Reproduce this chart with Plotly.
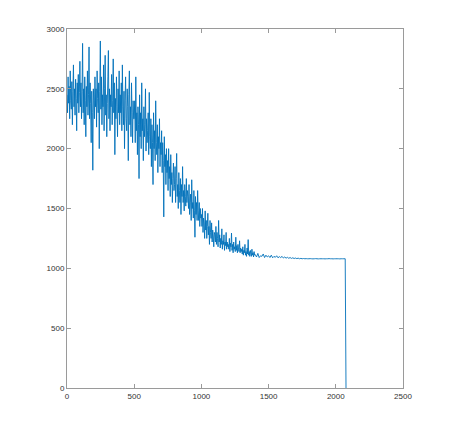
import plotly.graph_objects as go

# Noisy part sampled every 4 units from 0 to 1396
y_dense = [
    # 0-96
    2450, 2300, 2600, 2380, 2520, 2250, 2650, 2400, 2330, 2560, 2200, 2480, 2700, 2350, 2500, 2280, 2580, 2420, 2150, 2550, 2380, 2620, 2300, 2470, 2730,
    # 100-196
    2350, 2550, 2250, 2480, 2880, 2300, 2500, 2200, 2600, 2400, 2100, 2520, 2350, 2650, 2280, 2450, 2850, 2250, 2550, 2380, 2050, 2480, 2300, 1820, 2500,
    # 200-296
    2400, 2250, 2600, 2350, 2500, 2180, 2650, 2420, 2300, 2550, 2000, 2480, 2900, 2330, 2600, 2200, 2450, 2350, 2700, 2150, 2500, 2780, 2280, 2450, 2100,
    # 300-396
    2380, 2600, 2820, 2250, 2500, 2150, 2450, 2350, 2620, 2200, 2400, 2750, 2300, 2550, 1950, 2420, 2250, 2600, 2350, 2100, 2500, 2300, 2650, 2200, 2450,
    # 400-496
    2300, 2550, 2150, 2700, 2350, 2200, 2480, 2000, 2400, 2600, 2250, 2150, 2500, 2350, 1900, 2450, 2650, 2200, 2350, 2100, 2550, 2300, 2050, 2400, 2250,
    # 500-596
    2250, 2400, 2050, 2600, 2150, 2300, 1950, 2350, 2200, 1750, 2450, 2100, 2300, 2000, 2550, 2150, 2250, 1900, 2350, 2100, 2200, 2500, 1980, 2250, 2050,
    # 600-696
    2150, 2300, 1950, 2470, 2100, 2000, 2250, 1850, 2200, 2050, 1700, 2300, 2000, 2150, 1900, 2400, 2050, 1950, 2200, 1800, 2100, 2000, 2250, 1850, 2050,
    # 700-796
    1950, 2150, 1800, 2050, 1900, 1430, 2100, 1850, 1950, 1700, 2000, 1800, 1900, 1650, 2000, 1750, 1850, 1600, 1950, 1700, 1800, 1550, 1750, 1880, 1650,
    # 800-896
    1700, 1850, 1550, 1750, 1960, 1600, 1700, 1500, 1800, 1650, 1550, 1750, 1450, 1700, 1600, 1850, 1550, 1650, 1480, 1700, 1600, 1520, 1750, 1550, 1650,
    # 900-996
    1600, 1500, 1700, 1450, 1550, 1620, 1400, 1740, 1500, 1550, 1420, 1650, 1480, 1260, 1600, 1450, 1550, 1400, 1650, 1480, 1400, 1550, 1350, 1500, 1420,
    # 1000-1096
    1450, 1350, 1500, 1300, 1420, 1380, 1250, 1480, 1320, 1400, 1250, 1350, 1460, 1280, 1350, 1200, 1400, 1300, 1250, 1380, 1220, 1320, 1270, 1180, 1300,
    # 1100-1196
    1280, 1220, 1350, 1200, 1300, 1250, 1180, 1400, 1220, 1280, 1170, 1250, 1200, 1330, 1160, 1230, 1200, 1280, 1150, 1220, 1190, 1300, 1160, 1220, 1180,
    # 1200-1296
    1200, 1160, 1250, 1140, 1210, 1180, 1295, 1150, 1200, 1130, 1220, 1160, 1180, 1140, 1260, 1150, 1190, 1130, 1200, 1160, 1140, 1230, 1130, 1170, 1140,
    # 1300-1396
    1160, 1120, 1180, 1110, 1150, 1130, 1200, 1110, 1140, 1100, 1170, 1120, 1240, 1110, 1140, 1100, 1150, 1120, 1100, 1160, 1110, 1130, 1095, 1140, 1110,
]

# Settled part sampled every 10 units from 1400 to 2070
y_tail = [
    1115, 1095, 1125, 1090, 1105, 1100, 1120, 1090, 1110, 1095,
    1105, 1090, 1110, 1088, 1100, 1092, 1105, 1088, 1098, 1090,
    1100, 1086, 1095, 1085, 1092, 1084, 1090, 1083, 1088, 1082,
    1086, 1081, 1085, 1080, 1083, 1080, 1082, 1080, 1081, 1080,
    1080, 1081, 1080, 1079, 1080, 1081, 1080, 1079, 1080, 1080,
    1080, 1080, 1079, 1080, 1080, 1081, 1080, 1080, 1079, 1080,
    1080, 1080, 1080, 1079, 1080, 1080, 1080, 1080,
]

# final sample (drop to zero)
x_end = 2076
y_end = 0

x_values = [i * 4 for i in range(len(y_dense))] + [1400 + i * 10 for i in range(len(y_tail))] + [x_end]
y_values = y_dense + y_tail + [y_end]

x_ticks = [0, 500, 1000, 1500, 2000, 2500]
y_ticks = [0, 500, 1000, 1500, 2000, 2500, 3000]

fig = go.Figure()
fig.add_trace(go.Scatter(
    x=x_values, y=y_values, mode="lines",
    line=dict(color="#0070BA", width=0.9, simplify=False),
    showlegend=False,
))

axis_common = dict(
    showgrid=False, zeroline=False,
    showline=True, linecolor="#9a9a9a", linewidth=1, mirror="ticks",
    ticks="inside", ticklen=4, tickcolor="#9a9a9a", tickwidth=1,
    tickfont=dict(family="Liberation Sans, Arial, sans-serif", size=8, color="#333333"),
)

fig.update_layout(
    width=452, height=424,
    margin=dict(l=59, r=57, t=21, b=44),
    paper_bgcolor="white", plot_bgcolor="white",
    xaxis=dict(range=[0, 2500], tickvals=x_ticks, ticktext=[str(v) for v in x_ticks], **axis_common),
    yaxis=dict(range=[0, 3000], tickvals=y_ticks, ticktext=[str(v) for v in y_ticks], **axis_common),
)

fig.write_html("out.html")
